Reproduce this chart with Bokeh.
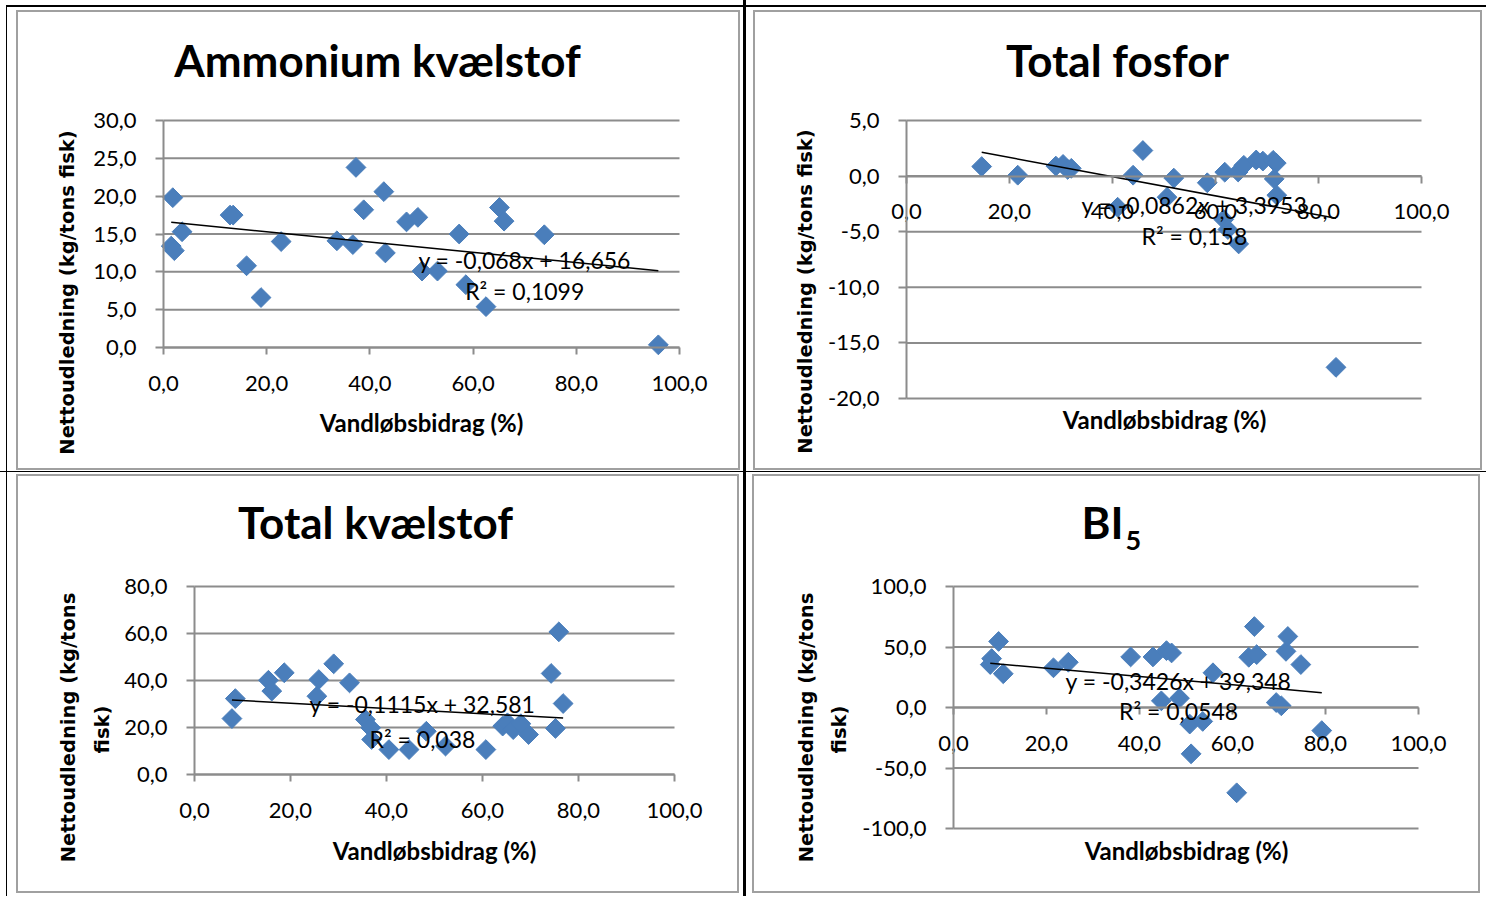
import numpy as np
from bokeh.plotting import figure
from bokeh.models import Range1d, FixedTicker, Label
from bokeh.layouts import row, column
from bokeh.embed import file_html
from bokeh.resources import INLINE

# ---------------- data ----------------
x_ticks = [0, 20, 40, 60, 80, 100]
x_tick_labels = ["0,0", "20,0", "40,0", "60,0", "80,0", "100,0"]

amm_ticks = [0, 5, 10, 15, 20, 25, 30]
amm_tick_labels = ["0,0", "5,0", "10,0", "15,0", "20,0", "25,0", "30,0"]
tp_ticks = [-20, -15, -10, -5, 0, 5]
tp_tick_labels = ["-20,0", "-15,0", "-10,0", "-5,0", "0,0", "5,0"]
tn_ticks = [0, 20, 40, 60, 80]
tn_tick_labels = ["0,0", "20,0", "40,0", "60,0", "80,0"]
bi_ticks = [-100, -50, 0, 50, 100]
bi_tick_labels = ["-100,0", "-50,0", "0,0", "50,0", "100,0"]

# Ammonium kvælstof
amm_x = [1.8, 1.5, 2.1, 3.6, 12.9, 13.5, 16.1, 18.9, 22.8, 33.6, 36.7, 37.3, 38.8,
         42.7, 43.0, 47.1, 49.3, 50.1, 53.1, 57.3, 58.6, 62.5, 65.1, 66.0, 73.8, 95.9]
amm_y = [19.8, 13.4, 12.8, 15.3, 17.5, 17.5, 10.8, 6.6, 14.0, 14.1, 13.6, 23.8, 18.2,
         20.6, 12.5, 16.6, 17.2, 10.1, 10.1, 15.0, 8.3, 5.4, 18.5, 16.7, 14.9, 0.35]
amm_slope, amm_intercept, amm_r2 = -0.068, 16.656, "0,1099"

# Total fosfor
tp_x = [14.6, 21.6, 29.0, 30.4, 31.3, 32.0, 41.0, 44.0, 45.9, 50.6, 51.9, 58.4, 61.8,
        61.6, 62.4, 64.5, 64.4, 65.5, 67.9, 69.2, 71.2, 71.8, 71.4, 71.9, 83.4]
tp_y = [0.86, 0.08, 0.9, 1.05, 0.6, 0.7, -2.8, 0.08, 2.3, -1.9, -0.18, -0.6, 0.35,
        -3.9, -4.8, -6.1, 0.37, 0.97, 1.45, 1.35, 1.42, 1.17, -0.25, -1.72, -17.2]
tp_slope, tp_intercept, tp_r2 = -0.0862, 3.3953, "0,158"

# Total kvælstof
tn_x = [8.5, 7.8, 15.4, 16.1, 18.7, 25.9, 25.5, 29.0, 32.3, 35.6, 36.7, 36.9, 40.5,
        44.7, 48.3, 52.3, 60.7, 64.2, 65.2, 66.4, 68.0, 69.6, 74.3, 75.2, 75.9, 76.8]
tn_y = [32.3, 23.8, 40.1, 35.5, 43.3, 40.4, 33.3, 47.1, 39.0, 23.4, 19.9, 14.9, 10.6,
        10.6, 18.4, 12.1, 10.6, 20.6, 22.0, 19.1, 21.6, 17.0, 43.0, 19.6, 60.7, 30.2]
tn_slope, tn_intercept, tn_r2 = -0.1115, 32.581, "0,038"

# BI5
bi_x = [9.7, 8.2, 7.9, 10.7, 21.5, 24.7, 38.1, 42.9, 45.8, 46.9, 44.7, 48.6, 50.8,
        53.6, 51.1, 55.8, 60.9, 63.5, 64.7, 65.2, 69.4, 70.5, 71.5, 71.9, 74.7, 79.2]
bi_y = [54.6, 40.4, 35.5, 27.9, 32.8, 37.4, 41.8, 41.8, 47.0, 45.1, 5.5, 7.7, -13.7,
        -11.5, -38.3, 28.7, -70.5, 41.5, 66.9, 43.7, 4.1, 1.4, 46.4, 58.7, 35.5, -19.1]
bi_slope, bi_intercept, bi_r2 = -0.3426, 39.348, "0,0548"

# ---------------- style ----------------
BLUE = "#4A7EBB"
GRID = "#8C8C8C"
BOX = "#A0A0A0"
FONT = "Lato"
YFONT = "DejaVu Sans"
XLABEL = "Vandløbsbidrag (%)"
YLABEL = "Nettoudledning (kg/tons fisk)"


def shadow(left, top, right, bottom):
    """Each side: (outer white, black, inner white, gray) band widths."""
    colors = ["white", "black", "white", BOX]
    out = []
    for lvl in range(4):
        for side, sx, sy in ((left, 1, 0), (top, 0, 1), (right, -1, 0), (bottom, 0, -1)):
            if side[lvl] == 0:
                continue
            c = sum(side[:lvl + 1])
            out.append("inset %dpx %dpx 0 0 %s" % (sx * c, sy * c, colors[lvl]))
    return ", ".join(out)


def screen_label(text, x, y, size, bold=False, font=FONT, angle=0.0,
                 align="center", baseline="middle"):
    return Label(x=x, y=y, x_units="screen", y_units="screen", text=text,
                 angle=angle, text_align=align, text_baseline=baseline,
                 text_font=font, text_font_size=size,
                 text_font_style="bold" if bold else "normal", text_color="black")


def make_panel(spec):
    W, H = spec["w"], spec["h"]
    L, R, T, B = spec["box"]          # plot-area pixel box inside the chart cell
    yt = spec["yticks"]
    x0, x1, y0, y1 = 0, 100, yt[0], yt[-1]
    sx = (R - L) / (x1 - x0)
    sy = (B - T) / (y1 - y0)
    # the frame covers the whole cell; the ranges are widened so that the
    # value area lands on the plot-area box
    xr = Range1d(x0 - L / sx, x1 + (W - R) / sx)
    yr = Range1d(y0 - (H - B) / sy, y1 + T / sy)

    p = figure(width=W, height=H, x_range=xr, y_range=yr,
               output_backend="svg", toolbar_location=None,
               title=None, title_location=None, min_border=0,
               border_fill_color=None, background_fill_color=None,
               outline_line_color=None,
               styles={"background-color": "white", "box-shadow": shadow(*spec["bands"])})

    xa = p.xaxis[0]
    ya = p.yaxis[0]
    xa.fixed_location = 0
    ya.fixed_location = 0
    xa.bounds = (x0, x1)
    ya.bounds = (y0, y1)
    xa.ticker = FixedTicker(ticks=x_ticks)
    xa.major_label_overrides = dict(zip(x_ticks, x_tick_labels))
    ya.ticker = FixedTicker(ticks=yt)
    ya.major_label_overrides = dict(zip(yt, spec["ylabels"]))
    for ax in (xa, ya):
        ax.axis_line_color = GRID
        ax.axis_line_width = 2
        ax.major_tick_line_color = GRID
        ax.major_tick_line_width = 2
        ax.major_tick_in = 0
        ax.minor_tick_line_color = None
        ax.major_label_text_font = FONT
        ax.major_label_text_font_size = "22px"
        ax.major_label_text_color = "black"
    xa.major_tick_out = 7
    ya.major_tick_out = 8
    xa.major_label_standoff = 21
    ya.major_label_standoff = 19

    p.xgrid.visible = False
    p.ygrid.visible = False
    # horizontal gridlines at the y ticks, across the value area
    p.segment(x0=[x0] * len(yt), y0=yt, x1=[x1] * len(yt), y1=yt,
              line_color=GRID, line_width=2)

    x = spec["x"]
    y = spec["y"]
    p.scatter(x, y, marker="square", size=14, angle=np.pi / 4,
              fill_color=BLUE, line_color=BLUE)
    xs = [min(x), max(x)]
    ys = [spec["slope"] * v + spec["intercept"] for v in xs]
    p.line(xs, ys, line_color="black", line_width=1.5)

    # titles (screen units: from cell left, from cell bottom)
    for text, tx, ty, size, align in spec["title"]:
        p.add_layout(screen_label(text, tx, H - ty, size, bold=True, align=align,
                                  baseline="alphabetic"))
    for text, lx, ly in spec["ylab"]:
        p.add_layout(screen_label(text, lx, H - ly, "19.5px", bold=True, font=YFONT,
                                  angle=np.pi / 2))
    lx, ly = spec["xlab"]
    p.add_layout(screen_label(XLABEL, lx, H - ly, "24px", bold=True))

    s = ("%g" % spec["slope"]).replace(".", ",")
    i = ("%g" % spec["intercept"]).replace(".", ",")
    eq = "y = %sx + %s" % (s, i)
    r2 = "R² = " + spec["r2"]
    ex, ey1, ey2 = spec["eqpos"]
    for txt, yy in ((eq, ey1), (r2, ey2)):
        p.add_layout(Label(x=ex, y=yy, text=txt, text_align="center", text_baseline="middle",
                           text_font=FONT, text_font_size="23px", text_color="black"))
    return p


specs = [
    dict(w=743, h=471, box=(163, 679, 120, 347),
         bands=((6, 1, 9, 2), (5, 2, 3, 2), (0, 0, 3, 2), (0, 0, 1, 2)),
         title=[("Ammonium kvælstof", 377, 59, "44px", "center")],
         yticks=amm_ticks, ylabels=amm_tick_labels,
         ylab=[(YLABEL, 67, 292)], xlab=(421, 422),
         x=amm_x, y=amm_y, slope=amm_slope, intercept=amm_intercept, r2=amm_r2,
         eqpos=(70.0, 11.6, 7.5)),
    dict(w=740, h=471, box=(160, 675, 120, 398),
         bands=((0, 0, 7, 2), (5, 2, 3, 2), (0, 0, 4, 2), (0, 0, 1, 2)),
         title=[("Total fosfor", 371, 59, "44px", "center")],
         yticks=tp_ticks, ylabels=tp_tick_labels,
         ylab=[(YLABEL, 59, 291)], xlab=(418, 419),
         x=tp_x, y=tp_y, slope=tp_slope, intercept=tp_intercept, r2=tp_r2,
         eqpos=(55.9, -2.6, -5.4)),
    dict(w=743, h=424, box=(194, 674, 114, 302),
         bands=((6, 1, 9, 2), (0, 0, 2, 2), (0, 0, 4, 2), (0, 0, 3, 2)),
         title=[("Total kvælstof", 375, 49, "44px", "center")],
         yticks=tn_ticks, ylabels=tn_tick_labels,
         ylab=[("Nettoudledning (kg/tons", 68, 255), ("fisk)", 102, 257)], xlab=(434, 378),
         x=tn_x, y=tn_y, slope=tn_slope, intercept=tn_intercept, r2=tn_r2,
         eqpos=(47.5, 29.8, 14.9)),
    dict(w=740, h=424, box=(207, 672, 114, 356),
         bands=((0, 0, 6, 2), (0, 0, 2, 2), (0, 0, 6, 2), (0, 0, 3, 2)),
         title=[("BI", 377, 49, "44px", "right"), ("5", 379, 68, "27px", "left")],
         yticks=bi_ticks, ylabels=bi_tick_labels,
         ylab=[("Nettoudledning (kg/tons", 60, 255), ("fisk)", 93, 257)], xlab=(440, 378),
         x=bi_x, y=bi_y, slope=bi_slope, intercept=bi_intercept, r2=bi_r2,
         eqpos=(48.4, 22.3, -3.3)),
]

p1, p2, p3, p4 = [make_panel(s) for s in specs]

layout = column(row(column(p1), column(p2), spacing=3),
                row(column(p3), column(p4), spacing=3),
                spacing=1, styles={"background-color": "black"})

open("out.html", "w").write(file_html(layout, INLINE))
